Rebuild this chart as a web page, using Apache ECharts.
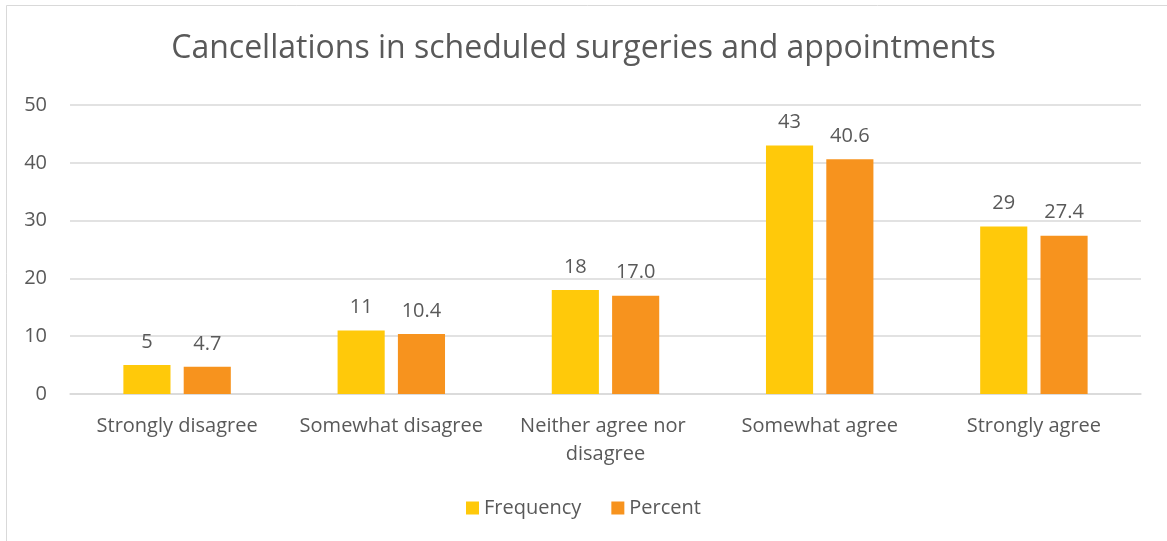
<!DOCTYPE html>
<html>
<head>
<meta charset="utf-8">
<script src="https://cdn.jsdelivr.net/npm/echarts@6/dist/echarts.min.js"></script>
<style>
  html, body { margin: 0; padding: 0; background: #fff; }
  #main { width: 1167px; height: 541px; }
</style>
</head>
<body>
<div id="main"></div>
<script>
// data
var categories = ['Strongly disagree', 'Somewhat disagree', 'Neither agree nor disagree', 'Somewhat agree', 'Strongly agree'];
var frequency = [5, 11, 18, 43, 29];
var percent = [4.7, 10.4, 17.0, 40.6, 27.4];

var textColor = '#595959';
var fontName = 'Open Sans';

var myChart = echarts.init(document.getElementById('main'));

var option = {
    backgroundColor: '#fff',
    textStyle: { fontFamily: fontName },
    title: {
        text: 'Cancellations in scheduled surgeries and appointments',
        left: 'center',
        top: 28,
        textStyle: { fontFamily: fontName, fontSize: 32, fontWeight: 'normal', color: textColor }
    },
    graphic: [{
        type: 'rect',
        shape: { x: 6.5, y: 5.5, width: 1300, height: 700 },
        style: { fill: 'none', stroke: '#d9d9d9', lineWidth: 1 },
        silent: true
    }],
    legend: {
        data: ['Frequency', 'Percent'],
        bottom: 18,
        left: 'center',
        icon: 'rect',
        itemWidth: 13,
        itemHeight: 13,
        itemGap: 30,
        textStyle: { fontFamily: fontName, fontSize: 20, color: textColor }
    },
    grid: { left: 70, right: 26, top: 105, bottom: 147 },
    xAxis: {
        type: 'category',
        data: categories,
        axisLine: { lineStyle: { color: '#d9d9d9', width: 1.5 } },
        axisTick: { show: false },
        axisLabel: {
            color: textColor,
            fontSize: 20,
            margin: 18,
            width: 200,
            overflow: 'break',
            lineHeight: 28,
            interval: 0
        }
    },
    yAxis: {
        type: 'value',
        min: 0,
        max: 50,
        interval: 10,
        axisLine: { show: false },
        axisTick: { show: false },
        axisLabel: { color: textColor, fontSize: 20, margin: 23 },
        splitLine: { lineStyle: { color: '#d9d9d9', width: 1.5 } }
    },
    series: [
        {
            name: 'Frequency',
            type: 'bar',
            data: frequency,
            barWidth: '22%',
            barGap: '28%',
            itemStyle: { color: '#FFC90A' },
            label: {
                show: true,
                position: 'top',
                distance: 13,
                color: textColor,
                fontSize: 20
            }
        },
        {
            name: 'Percent',
            type: 'bar',
            data: percent,
            barWidth: '22%',
            itemStyle: { color: '#F7931E' },
            label: {
                show: true,
                position: 'top',
                distance: 13,
                color: textColor,
                fontSize: 20,
                formatter: function (p) { return p.value.toFixed(1); }
            }
        }
    ]
};

myChart.setOption(option);
window.onresize = myChart.resize;
</script>
</body>
</html>
